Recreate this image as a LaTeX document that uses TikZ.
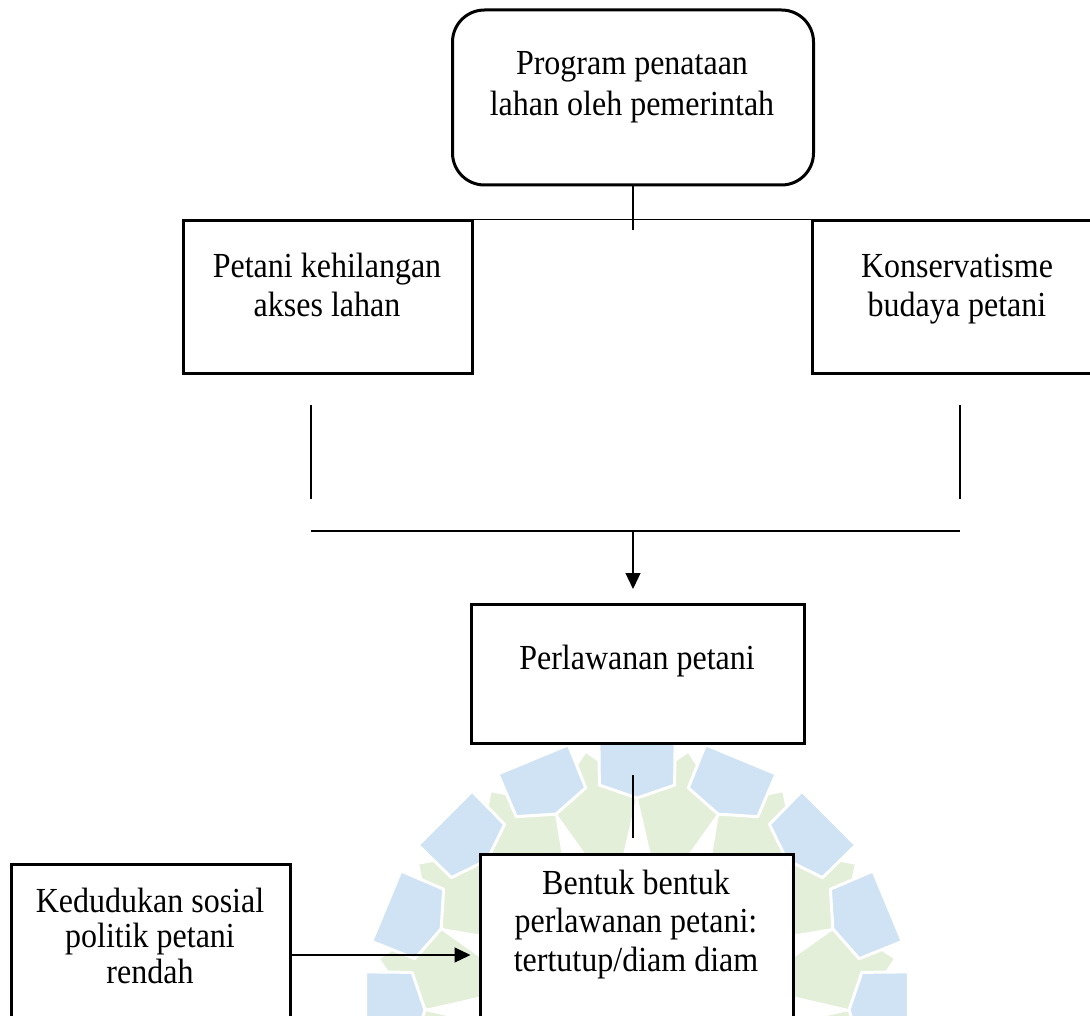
\documentclass[tikz,border=0pt]{standalone}
\usepackage{fontspec}
\setmainfont{Liberation Serif}
\usetikzlibrary{arrows.meta}
\definecolor{wmblue}{RGB}{208,227,244}
\definecolor{wmgreen}{RGB}{227,239,216}
\newcommand\vtext[2]{\scalebox{1}[1.1]{\fontsize{32}{#1}\selectfont\begin{tabular}{@{}c@{}}#2\end{tabular}}}
\begin{document}
\begin{tikzpicture}[x=1pt,y=-1pt,
  boxline/.style={draw=black, line width=3pt, fill=white, inner sep=0pt},
  link/.style={draw=black, line width=1.2pt},
  arr/.style={link, -{Triangle[length=16pt,width=15pt]}},
  txt/.style={align=center, inner sep=0pt},
  petalblue/.style={fill=wmblue, draw=white, line width=3pt, line join=round},
  petalgreen/.style={fill=wmgreen, draw=white, line width=3pt, line join=round},
]
\useasboundingbox (0,0) rectangle (1090,1016);
\fill[white] (0,0) rectangle (1090,1016);
\clip (0,0) rectangle (1090,1016);

% watermark
\begin{scope}[shift={(637,1010)}, yscale=-1]
  \foreach \k in {0,...,15} {
    \pgfmathsetmacro\b{101.25+22.5*\k}
    \path[petalgreen] (\b:264) -- (\b+12:222) -- (\b+6:150) -- (\b:120) -- (\b-6:150) -- (\b-12:222) -- cycle;
  }
  \foreach \k in {0,...,15} {
    \pgfmathsetmacro\a{90+22.5*\k}
    \path[petalblue] (\a-8:274) -- (\a+8:274) -- (\a+9.5:228) -- (\a:212) -- (\a-9.5:228) -- cycle;
  }
\end{scope}

% boxes
\node[boxline, rounded corners=32pt, minimum width=361pt, minimum height=175pt] (prog) at (633,97.5) {};
\node[txt] (progT) at (632,87) {\vtext{36.4}{Program penataan\\lahan oleh pemerintah}};

\node[boxline, minimum width=289pt, minimum height=152pt] (lose) at (327.5,297) {};
\node[txt] (loseT) at (327,289.5) {\vtext{35.5}{Petani kehilangan\\akses lahan}};

\node[boxline, minimum width=290pt, minimum height=152pt] (cons) at (957,297) {};
\node[txt] (consT) at (957,289.5) {\vtext{35.5}{Konservatisme\\budaya petani}};

\node[boxline, minimum width=333pt, minimum height=139pt] (perl) at (637.5,673.5) {};
\node[txt] (perlT) at (637,662) {\vtext{36}{Perlawanan petani}};

\node[boxline, minimum width=313pt, minimum height=172pt] (bent) at (636.5,940) {};
\node[txt] (bentT) at (636,925) {\vtext{35}{Bentuk bentuk\\perlawanan petani:\\tertutup/diam diam}};

\node[boxline, minimum width=279pt, minimum height=182pt] (ked) at (150.5,955) {};
\node[txt] (kedT) at (150,940.5) {\vtext{32.3}{Kedudukan sosial\\politik petani\\rendah}};

% connectors
\coordinate (j0) at (633,230);
\draw[link] (prog.south) -- (j0);
\draw[link] (lose.north east) -- (cons.north west);

\coordinate (l1) at (311,405);
\coordinate (l2) at (311,499);
\coordinate (r1) at (960,405);
\coordinate (r2) at (960,499);
\draw[link] (l1) -- (l2);
\draw[link] (r1) -- (r2);

\coordinate (h1) at (311,531);
\coordinate (h2) at (960,531);
\draw[link] (h1) -- (h2);

\coordinate (a1) at (633,531);
\coordinate (a2) at (633,589);
\draw[arr] (a1) -- (a2);

\coordinate (m1) at (633,775);
\coordinate (m2) at (633,838);
\draw[link] (m1) -- (m2);

\draw[arr, shorten >=8pt] (ked.east) -- (bent.west |- ked.east);
\end{tikzpicture}
\end{document}
